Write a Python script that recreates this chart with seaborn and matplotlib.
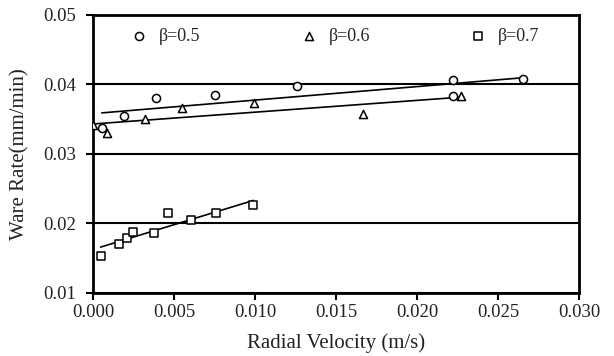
# Wear rate vs radial velocity for three beta values, with linear trend lines
import pandas as pd
import seaborn as sns
import matplotlib.pyplot as plt
from matplotlib.ticker import FormatStrFormatter

# beta = 0.5 (circles)
x_b05 = [0.00054, 0.00193, 0.00389, 0.00753, 0.01261, 0.02220, 0.02220, 0.02652]
y_b05 = [0.0337, 0.0355, 0.0381, 0.0385, 0.0398, 0.0406, 0.0384, 0.0408]

# beta = 0.6 (triangles)
x_b06 = [0.00000, 0.00088, 0.00320, 0.00547, 0.00996, 0.01665, 0.02270]
y_b06 = [0.0342, 0.0330, 0.0350, 0.0366, 0.0373, 0.0358, 0.0383]

# beta = 0.7 (squares)
x_b07 = [0.00047, 0.00160, 0.00208, 0.00249, 0.00377, 0.00465, 0.00605, 0.00759, 0.00990]
y_b07 = [0.01537, 0.0171, 0.0179, 0.01873, 0.0187, 0.02155, 0.02046, 0.02147, 0.02262]

labels = ["β=0.5", "β=0.6", "β=0.7"]
markers = ["o", "^", "s"]

df = pd.concat([
    pd.DataFrame({"vel": x_b05, "wear": y_b05, "beta": labels[0]}),
    pd.DataFrame({"vel": x_b06, "wear": y_b06, "beta": labels[1]}),
    pd.DataFrame({"vel": x_b07, "wear": y_b07, "beta": labels[2]}),
])

sns.set_style("white")
plt.rcParams['font.family'] = ['Liberation Serif', 'DejaVu Serif']

fig = plt.figure(figsize=(6.14, 3.56), dpi=100)
ax = fig.add_axes([0.1515, 0.177, 0.792, 0.781])

for lab, mk in zip(labels, markers):
    sub = df[df["beta"] == lab]
    sns.regplot(x="vel", y="wear", data=sub, scatter=False, ci=None, truncate=True,
                line_kws={"color": "black", "lw": 1.2}, ax=ax)
    sns.scatterplot(x="vel", y="wear", data=sub, marker=mk, s=34, facecolor="white",
                    edgecolor="black", linewidth=1.1, label=lab, ax=ax, zorder=3)

ax.set_xlim(0, 0.030)
ax.set_ylim(0.01, 0.05)
ax.set_xticks([0.000, 0.005, 0.010, 0.015, 0.020, 0.025, 0.030])
ax.set_yticks([0.01, 0.02, 0.03, 0.04, 0.05])
ax.xaxis.set_major_formatter(FormatStrFormatter("%.3f"))
ax.yaxis.set_major_formatter(FormatStrFormatter("%.2f"))

# horizontal gridlines only
ax.grid(False)
ax.yaxis.grid(True, color="black", lw=1.5)

for s in ax.spines.values():
    s.set_color("black")
    s.set_linewidth(2)

ax.tick_params(axis="both", direction="out", length=5, width=1.5, color="black",
               labelsize=13.5, labelcolor="#222222", left=True, bottom=True)
ax.tick_params(axis="x", pad=3)
ax.tick_params(axis="y", pad=7)

ax.set_xlabel("Radial Velocity (m/s)", fontsize=15, color="#222222", labelpad=9)
ax.set_ylabel("Ware Rate(mm/min)", fontsize=15, color="#222222", labelpad=10)

ax.legend(loc="upper center", bbox_to_anchor=(0.488, 1.012), ncol=3, frameon=False,
          fontsize=13, handletextpad=0.1, columnspacing=5.0, markerscale=1.0)

plt.savefig("out.png", dpi=100)
